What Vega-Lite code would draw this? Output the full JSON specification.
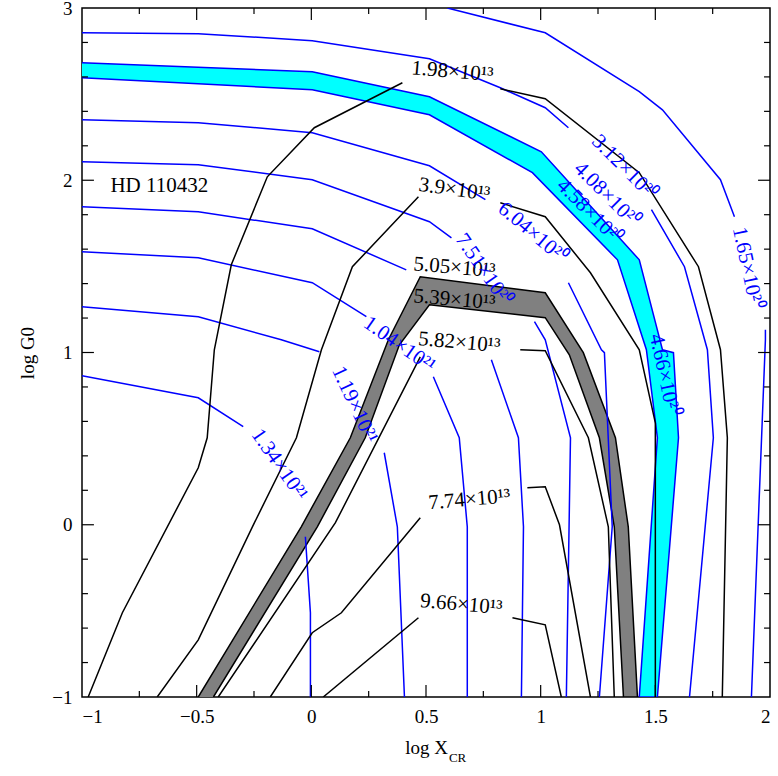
{
  "$schema": "https://vega.github.io/schema/vega-lite/v6.json",
  "width": 688,
  "height": 689,
  "autosize": "none",
  "padding": {"left": 82, "top": 8, "right": 8, "bottom": 79},
  "background": "white",
  "config": {
    "view": {"stroke": "black", "strokeWidth": 1.5},
    "font": "Liberation Serif",
    "axis": {"labelFont": "Liberation Serif", "titleFont": "Liberation Serif", "labelFontSize": 19, "titleFontSize": 19, "titleFontWeight": "normal", "labelColor": "black", "titleColor": "black", "grid": false, "domain": false, "ticks": false, "labelPadding": 10, "format": "~g"}
  },
  "datasets": {
    "ticks": [
      {"x": -0.75, "y": -1, "x2": -0.75, "y2": -0.965}, {"x": -0.5, "y": -1, "x2": -0.5, "y2": -0.93}, {"x": -0.25, "y": -1, "x2": -0.25, "y2": -0.965}, {"x": 0, "y": -1, "x2": 0, "y2": -0.93}, {"x": 0.25, "y": -1, "x2": 0.25, "y2": -0.965}, {"x": 0.5, "y": -1, "x2": 0.5, "y2": -0.93}, {"x": 0.75, "y": -1, "x2": 0.75, "y2": -0.965}, {"x": 1, "y": -1, "x2": 1, "y2": -0.93}, {"x": 1.25, "y": -1, "x2": 1.25, "y2": -0.965}, {"x": 1.5, "y": -1, "x2": 1.5, "y2": -0.93}, {"x": 1.75, "y": -1, "x2": 1.75, "y2": -0.965},
      {"x": -0.75, "y": 3, "x2": -0.75, "y2": 2.965}, {"x": -0.5, "y": 3, "x2": -0.5, "y2": 2.93}, {"x": -0.25, "y": 3, "x2": -0.25, "y2": 2.965}, {"x": 0, "y": 3, "x2": 0, "y2": 2.93}, {"x": 0.25, "y": 3, "x2": 0.25, "y2": 2.965}, {"x": 0.5, "y": 3, "x2": 0.5, "y2": 2.93}, {"x": 0.75, "y": 3, "x2": 0.75, "y2": 2.965}, {"x": 1, "y": 3, "x2": 1, "y2": 2.93}, {"x": 1.25, "y": 3, "x2": 1.25, "y2": 2.965}, {"x": 1.5, "y": 3, "x2": 1.5, "y2": 2.93}, {"x": 1.75, "y": 3, "x2": 1.75, "y2": 2.965},
      {"x": -1, "y": -0.8, "x2": -0.974, "y2": -0.8}, {"x": -1, "y": -0.6, "x2": -0.974, "y2": -0.6}, {"x": -1, "y": -0.4, "x2": -0.974, "y2": -0.4}, {"x": -1, "y": -0.2, "x2": -0.974, "y2": -0.2}, {"x": -1, "y": 0, "x2": -0.948, "y2": 0}, {"x": -1, "y": 0.2, "x2": -0.974, "y2": 0.2}, {"x": -1, "y": 0.4, "x2": -0.974, "y2": 0.4}, {"x": -1, "y": 0.6, "x2": -0.974, "y2": 0.6}, {"x": -1, "y": 0.8, "x2": -0.974, "y2": 0.8}, {"x": -1, "y": 1, "x2": -0.948, "y2": 1}, {"x": -1, "y": 1.2, "x2": -0.974, "y2": 1.2}, {"x": -1, "y": 1.4, "x2": -0.974, "y2": 1.4}, {"x": -1, "y": 1.6, "x2": -0.974, "y2": 1.6}, {"x": -1, "y": 1.8, "x2": -0.974, "y2": 1.8}, {"x": -1, "y": 2, "x2": -0.948, "y2": 2}, {"x": -1, "y": 2.2, "x2": -0.974, "y2": 2.2}, {"x": -1, "y": 2.4, "x2": -0.974, "y2": 2.4}, {"x": -1, "y": 2.6, "x2": -0.974, "y2": 2.6}, {"x": -1, "y": 2.8, "x2": -0.974, "y2": 2.8},
      {"x": 2, "y": -0.8, "x2": 1.974, "y2": -0.8}, {"x": 2, "y": -0.6, "x2": 1.974, "y2": -0.6}, {"x": 2, "y": -0.4, "x2": 1.974, "y2": -0.4}, {"x": 2, "y": -0.2, "x2": 1.974, "y2": -0.2}, {"x": 2, "y": 0, "x2": 1.948, "y2": 0}, {"x": 2, "y": 0.2, "x2": 1.974, "y2": 0.2}, {"x": 2, "y": 0.4, "x2": 1.974, "y2": 0.4}, {"x": 2, "y": 0.6, "x2": 1.974, "y2": 0.6}, {"x": 2, "y": 0.8, "x2": 1.974, "y2": 0.8}, {"x": 2, "y": 1, "x2": 1.948, "y2": 1}, {"x": 2, "y": 1.2, "x2": 1.974, "y2": 1.2}, {"x": 2, "y": 1.4, "x2": 1.974, "y2": 1.4}, {"x": 2, "y": 1.6, "x2": 1.974, "y2": 1.6}, {"x": 2, "y": 1.8, "x2": 1.974, "y2": 1.8}, {"x": 2, "y": 2, "x2": 1.948, "y2": 2}, {"x": 2, "y": 2.2, "x2": 1.974, "y2": 2.2}, {"x": 2, "y": 2.4, "x2": 1.974, "y2": 2.4}, {"x": 2, "y": 2.6, "x2": 1.974, "y2": 2.6}, {"x": 2, "y": 2.8, "x2": 1.974, "y2": 2.8}
    ],
    "polys": [
      {"s": "cyan", "i": 1, "x": -1, "y": 2.682}, {"s": "cyan", "i": 2, "x": 0.004, "y": 2.63}, {"s": "cyan", "i": 3, "x": 0.515, "y": 2.485}, {"s": "cyan", "i": 4, "x": 1.003, "y": 2.165}, {"s": "cyan", "i": 5, "x": 1.43, "y": 1.538}, {"s": "cyan", "i": 6, "x": 1.531, "y": 1.016}, {"s": "cyan", "i": 7, "x": 1.579, "y": 0.999}, {"s": "cyan", "i": 8, "x": 1.601, "y": 0.505}, {"s": "cyan", "i": 9, "x": 1.509, "y": -1},
      {"s": "cyan", "i": 10, "x": 1.43, "y": -1}, {"s": "cyan", "i": 11, "x": 1.509, "y": 0.505}, {"s": "cyan", "i": 12, "x": 1.461, "y": 1.016}, {"s": "cyan", "i": 13, "x": 1.335, "y": 1.538}, {"s": "cyan", "i": 14, "x": 0.964, "y": 2.044}, {"s": "cyan", "i": 15, "x": 0.515, "y": 2.38}, {"s": "cyan", "i": 16, "x": 0.004, "y": 2.525}, {"s": "cyan", "i": 17, "x": -1, "y": 2.595},
      {"s": "gray", "i": 1, "x": -0.493, "y": -1}, {"s": "gray", "i": 2, "x": -0.044, "y": -0.012}, {"s": "gray", "i": 3, "x": 0.17, "y": 0.505}, {"s": "gray", "i": 4, "x": 0.336, "y": 1.074}, {"s": "gray", "i": 5, "x": 0.475, "y": 1.44}, {"s": "gray", "i": 6, "x": 1.02, "y": 1.347}, {"s": "gray", "i": 7, "x": 1.186, "y": 0.999}, {"s": "gray", "i": 8, "x": 1.326, "y": 0.505}, {"s": "gray", "i": 9, "x": 1.382, "y": -0.012}, {"s": "gray", "i": 10, "x": 1.422, "y": -1},
      {"s": "gray", "i": 11, "x": 1.361, "y": -1}, {"s": "gray", "i": 12, "x": 1.321, "y": -0.012}, {"s": "gray", "i": 13, "x": 1.256, "y": 0.505}, {"s": "gray", "i": 14, "x": 1.125, "y": 0.987}, {"s": "gray", "i": 15, "x": 1.02, "y": 1.202}, {"s": "gray", "i": 16, "x": 0.515, "y": 1.277}, {"s": "gray", "i": 17, "x": 0.384, "y": 1.045}, {"s": "gray", "i": 18, "x": 0.235, "y": 0.505}, {"s": "gray", "i": 19, "x": 0.026, "y": -0.012}, {"s": "gray", "i": 20, "x": -0.427, "y": -1}
    ],
    "lines": [
      {"s": "A1", "k": "b", "i": 1, "x": 0.593, "y": 3}, {"s": "A1", "k": "b", "i": 2, "x": 1.02, "y": 2.856}, {"s": "A1", "k": "b", "i": 3, "x": 1.43, "y": 2.514}, {"s": "A1", "k": "b", "i": 4, "x": 1.531, "y": 2.409}, {"s": "A1", "k": "b", "i": 5, "x": 1.784, "y": 2.003}, {"s": "A1", "k": "b", "i": 6, "x": 1.845, "y": 1.788},
      {"s": "A2", "k": "b", "i": 1, "x": 1.98, "y": 1.132}, {"s": "A2", "k": "b", "i": 2, "x": 1.98, "y": 1.074}, {"s": "A2", "k": "b", "i": 3, "x": 1.919, "y": -1},
      {"s": "B1", "k": "b", "i": 1, "x": -1, "y": 2.856}, {"s": "B1", "k": "b", "i": 2, "x": -0.493, "y": 2.851}, {"s": "B1", "k": "b", "i": 3, "x": 0.004, "y": 2.81}, {"s": "B1", "k": "b", "i": 4, "x": 0.515, "y": 2.705}, {"s": "B1", "k": "b", "i": 5, "x": 0.824, "y": 2.537}, {"s": "B1", "k": "b", "i": 6, "x": 1.02, "y": 2.421}, {"s": "B1", "k": "b", "i": 7, "x": 1.121, "y": 2.305},
      {"s": "B2", "k": "b", "i": 1, "x": 1.483, "y": 1.829}, {"s": "B2", "k": "b", "i": 2, "x": 1.627, "y": 1.498}, {"s": "B2", "k": "b", "i": 3, "x": 1.727, "y": 1.016}, {"s": "B2", "k": "b", "i": 4, "x": 1.753, "y": 0.505}, {"s": "B2", "k": "b", "i": 5, "x": 1.649, "y": -1},
      {"s": "C1", "k": "b", "i": 1, "x": -1, "y": 2.351}, {"s": "C1", "k": "b", "i": 2, "x": -0.493, "y": 2.334}, {"s": "C1", "k": "b", "i": 3, "x": 0.004, "y": 2.276}, {"s": "C1", "k": "b", "i": 4, "x": 0.515, "y": 2.084}, {"s": "C1", "k": "b", "i": 5, "x": 0.759, "y": 1.887},
      {"s": "C2", "k": "b", "i": 1, "x": 1.121, "y": 1.405}, {"s": "C2", "k": "b", "i": 2, "x": 1.265, "y": 1.016}, {"s": "C2", "k": "b", "i": 3, "x": 1.278, "y": 0.999}, {"s": "C2", "k": "b", "i": 4, "x": 1.312, "y": -0.012}, {"s": "C2", "k": "b", "i": 5, "x": 1.256, "y": -1},
      {"s": "D1", "k": "b", "i": 1, "x": -1, "y": 2.107}, {"s": "D1", "k": "b", "i": 2, "x": -0.493, "y": 2.09}, {"s": "D1", "k": "b", "i": 3, "x": 0.004, "y": 2.003}, {"s": "D1", "k": "b", "i": 4, "x": 0.515, "y": 1.759}, {"s": "D1", "k": "b", "i": 5, "x": 0.611, "y": 1.666},
      {"s": "D2", "k": "b", "i": 1, "x": 0.973, "y": 1.179}, {"s": "D2", "k": "b", "i": 2, "x": 1.02, "y": 1.074}, {"s": "D2", "k": "b", "i": 3, "x": 1.13, "y": 0.505}, {"s": "D2", "k": "b", "i": 4, "x": 1.112, "y": -1},
      {"s": "E1", "k": "b", "i": 1, "x": -1, "y": 1.846}, {"s": "E1", "k": "b", "i": 2, "x": -0.493, "y": 1.817}, {"s": "E1", "k": "b", "i": 3, "x": 0.004, "y": 1.718}, {"s": "E1", "k": "b", "i": 4, "x": 0.414, "y": 1.48},
      {"s": "E2", "k": "b", "i": 1, "x": 0.785, "y": 0.958}, {"s": "E2", "k": "b", "i": 2, "x": 0.903, "y": 0.505}, {"s": "E2", "k": "b", "i": 3, "x": 0.925, "y": -0.012}, {"s": "E2", "k": "b", "i": 4, "x": 0.916, "y": -1},
      {"s": "F1", "k": "b", "i": 1, "x": -1, "y": 1.585}, {"s": "F1", "k": "b", "i": 2, "x": -0.493, "y": 1.55}, {"s": "F1", "k": "b", "i": 3, "x": 0.004, "y": 1.405}, {"s": "F1", "k": "b", "i": 4, "x": 0.24, "y": 1.208},
      {"s": "F2", "k": "b", "i": 1, "x": 0.532, "y": 0.859}, {"s": "F2", "k": "b", "i": 2, "x": 0.645, "y": 0.505}, {"s": "F2", "k": "b", "i": 3, "x": 0.68, "y": -0.012}, {"s": "F2", "k": "b", "i": 4, "x": 0.68, "y": -1},
      {"s": "G1", "k": "b", "i": 1, "x": -1, "y": 1.266}, {"s": "G1", "k": "b", "i": 2, "x": -0.493, "y": 1.208}, {"s": "G1", "k": "b", "i": 3, "x": -0.131, "y": 1.074}, {"s": "G1", "k": "b", "i": 4, "x": 0.035, "y": 1.004},
      {"s": "G2", "k": "b", "i": 1, "x": 0.318, "y": 0.418}, {"s": "G2", "k": "b", "i": 2, "x": 0.375, "y": -0.012}, {"s": "G2", "k": "b", "i": 3, "x": 0.406, "y": -1},
      {"s": "H1", "k": "b", "i": 1, "x": -1, "y": 0.865}, {"s": "H1", "k": "b", "i": 2, "x": -0.493, "y": 0.737}, {"s": "H1", "k": "b", "i": 3, "x": -0.297, "y": 0.569},
      {"s": "H2", "k": "b", "i": 1, "x": -0.026, "y": -0.07}, {"s": "H2", "k": "b", "i": 2, "x": -0.004, "y": -0.511}, {"s": "H2", "k": "b", "i": 3, "x": -0.004, "y": -1},
      {"s": "K1", "k": "k", "i": 1, "x": 0.397, "y": 2.566}, {"s": "K1", "k": "k", "i": 2, "x": 0.013, "y": 2.305}, {"s": "K1", "k": "k", "i": 3, "x": -0.192, "y": 2.02}, {"s": "K1", "k": "k", "i": 4, "x": -0.349, "y": 1.509}, {"s": "K1", "k": "k", "i": 5, "x": -0.423, "y": 1.016}, {"s": "K1", "k": "k", "i": 6, "x": -0.454, "y": 0.505}, {"s": "K1", "k": "k", "i": 7, "x": -0.493, "y": 0.331}, {"s": "K1", "k": "k", "i": 8, "x": -0.824, "y": -0.511}, {"s": "K1", "k": "k", "i": 9, "x": -0.973, "y": -1},
      {"s": "K2", "k": "k", "i": 1, "x": 0.824, "y": 2.531}, {"s": "K2", "k": "k", "i": 2, "x": 1.02, "y": 2.473}, {"s": "K2", "k": "k", "i": 3, "x": 1.43, "y": 2.044}, {"s": "K2", "k": "k", "i": 4, "x": 1.688, "y": 1.498}, {"s": "K2", "k": "k", "i": 5, "x": 1.784, "y": 1.016}, {"s": "K2", "k": "k", "i": 6, "x": 1.814, "y": 0.505}, {"s": "K2", "k": "k", "i": 7, "x": 1.792, "y": -1},
      {"s": "L1", "k": "k", "i": 1, "x": 0.467, "y": 1.904}, {"s": "L1", "k": "k", "i": 2, "x": 0.179, "y": 1.498}, {"s": "L1", "k": "k", "i": 3, "x": 0.044, "y": 1.016}, {"s": "L1", "k": "k", "i": 4, "x": -0.065, "y": 0.505}, {"s": "L1", "k": "k", "i": 5, "x": -0.257, "y": -0.012}, {"s": "L1", "k": "k", "i": 6, "x": -0.493, "y": -0.668}, {"s": "L1", "k": "k", "i": 7, "x": -0.672, "y": -1},
      {"s": "L2", "k": "k", "i": 1, "x": 0.824, "y": 1.869}, {"s": "L2", "k": "k", "i": 2, "x": 1.02, "y": 1.788}, {"s": "L2", "k": "k", "i": 3, "x": 1.217, "y": 1.463}, {"s": "L2", "k": "k", "i": 4, "x": 1.43, "y": 1.016}, {"s": "L2", "k": "k", "i": 5, "x": 1.5, "y": 0.592}, {"s": "L2", "k": "k", "i": 6, "x": 1.5, "y": -1},
      {"s": "M1", "k": "k", "i": 1, "x": 0.475, "y": 0.975}, {"s": "M1", "k": "k", "i": 2, "x": 0.105, "y": 0.012}, {"s": "M1", "k": "k", "i": 3, "x": -0.406, "y": -1},
      {"s": "M2", "k": "k", "i": 1, "x": 0.911, "y": 1.016}, {"s": "M2", "k": "k", "i": 2, "x": 1.02, "y": 1.01}, {"s": "M2", "k": "k", "i": 3, "x": 1.208, "y": 0.505}, {"s": "M2", "k": "k", "i": 4, "x": 1.295, "y": -0.012}, {"s": "M2", "k": "k", "i": 5, "x": 1.321, "y": -1},
      {"s": "N1", "k": "k", "i": 1, "x": 0.475, "y": 0.041}, {"s": "N1", "k": "k", "i": 2, "x": 0.131, "y": -0.511}, {"s": "N1", "k": "k", "i": 3, "x": 0.004, "y": -0.627}, {"s": "N1", "k": "k", "i": 4, "x": -0.179, "y": -1},
      {"s": "N2", "k": "k", "i": 1, "x": 0.942, "y": 0.215}, {"s": "N2", "k": "k", "i": 2, "x": 1.02, "y": 0.221}, {"s": "N2", "k": "k", "i": 3, "x": 1.082, "y": 0}, {"s": "N2", "k": "k", "i": 4, "x": 1.217, "y": -1},
      {"s": "P1", "k": "k", "i": 1, "x": 0.467, "y": -0.54}, {"s": "P1", "k": "k", "i": 2, "x": 0.052, "y": -1},
      {"s": "P2", "k": "k", "i": 1, "x": 0.877, "y": -0.54}, {"s": "P2", "k": "k", "i": 2, "x": 1.02, "y": -0.581}, {"s": "P2", "k": "k", "i": 3, "x": 1.09, "y": -1}
    ],
    "labels": [
      {"t": "HD 110432", "k": "k", "x": -0.663, "y": 1.968, "a": 0},
      {"t": "1.98×10¹³", "k": "k", "x": 0.615, "y": 2.63, "a": 5},
      {"t": "3.9×10¹³", "k": "k", "x": 0.624, "y": 1.945, "a": 8},
      {"t": "5.05×10¹³", "k": "k", "x": 0.624, "y": 1.492, "a": 5},
      {"t": "5.39×10¹³", "k": "k", "x": 0.624, "y": 1.306, "a": 5},
      {"t": "5.82×10¹³", "k": "k", "x": 0.645, "y": 1.057, "a": 5},
      {"t": "7.74×10¹³", "k": "k", "x": 0.689, "y": 0.145, "a": -5},
      {"t": "9.66×10¹³", "k": "k", "x": 0.654, "y": -0.464, "a": 5},
      {"t": "3.12×10²⁰", "k": "b", "x": 1.365, "y": 2.073, "a": 45},
      {"t": "4.08×10²⁰", "k": "b", "x": 1.287, "y": 1.916, "a": 45},
      {"t": "4.58×10²⁰", "k": "b", "x": 1.212, "y": 1.817, "a": 45},
      {"t": "6.04×10²⁰", "k": "b", "x": 0.964, "y": 1.695, "a": 40},
      {"t": "7.51×10²⁰", "k": "b", "x": 0.75, "y": 1.48, "a": 55},
      {"t": "1.04×10²¹", "k": "b", "x": 0.384, "y": 1.045, "a": 35},
      {"t": "1.19×10²¹", "k": "b", "x": 0.188, "y": 0.697, "a": 65},
      {"t": "1.34×10²¹", "k": "b", "x": -0.14, "y": 0.348, "a": 55},
      {"t": "4.66×10²⁰", "k": "b", "x": 1.539, "y": 0.871, "a": 78},
      {"t": "1.65×10²⁰", "k": "b", "x": 1.901, "y": 1.492, "a": 78},
      {"t": "CR", "k": "k", "x": 0.6, "y": -1.355, "a": 0, "small": true}
    ]
  },
  "encoding": {
    "x": {"field": "x", "type": "quantitative", "scale": {"domain": [-1, 2], "nice": false, "zero": false},
      "axis": {"title": "log X", "values": [-1, -0.5, 0, 0.5, 1, 1.5, 2], "titlePadding": 12}},
    "y": {"field": "y", "type": "quantitative", "scale": {"domain": [-1, 3], "nice": false, "zero": false},
      "axis": {"title": "log G0", "values": [-1, 0, 1, 2, 3], "titlePadding": 14}}
  },
  "layer": [
    {
      "data": {"name": "polys"},
      "transform": [{"filter": "datum.s == 'cyan'"}],
      "mark": {"type": "line", "fill": "#00ffff", "stroke": "blue", "strokeWidth": 1.5, "clip": true},
      "encoding": {"order": {"field": "i", "type": "quantitative"}}
    },
    {
      "data": {"name": "polys"},
      "transform": [{"filter": "datum.s == 'gray'"}],
      "mark": {"type": "line", "fill": "#808080", "stroke": "black", "strokeWidth": 1.5, "clip": true},
      "encoding": {"order": {"field": "i", "type": "quantitative"}}
    },
    {
      "data": {"name": "lines"},
      "mark": {"type": "line", "strokeWidth": 1.5, "clip": true},
      "encoding": {
        "detail": {"field": "s"},
        "order": {"field": "i", "type": "quantitative"},
        "color": {"field": "k", "type": "nominal", "scale": {"domain": ["b", "k"], "range": ["blue", "black"]}, "legend": null}
      }
    },
    {
      "data": {"name": "ticks"},
      "mark": {"type": "rule", "color": "black", "strokeWidth": 1.2},
      "encoding": {"x2": {"field": "x2"}, "y2": {"field": "y2"}}
    },
    {
      "data": {"name": "labels"},
      "transform": [{"filter": "!datum.small"}],
      "mark": {"type": "text", "fontSize": 21, "font": "Liberation Serif"},
      "encoding": {
        "text": {"field": "t"},
        "angle": {"field": "a", "type": "quantitative", "scale": null},
        "color": {"field": "k", "type": "nominal", "scale": {"domain": ["b", "k"], "range": ["blue", "black"]}, "legend": null}
      }
    },
    {
      "data": {"name": "labels"},
      "transform": [{"filter": "datum.small"}],
      "mark": {"type": "text", "fontSize": 13, "font": "Liberation Serif", "align": "left", "color": "black", "clip": false},
      "encoding": {"text": {"field": "t"}}
    }
  ]
}
